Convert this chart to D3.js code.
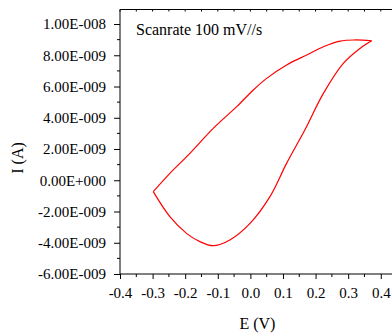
<!DOCTYPE html>
<html>
<head>
<meta charset="utf-8">
<script src="https://cdn.jsdelivr.net/npm/d3@7"></script>
<style>
  body { margin: 0; background: #fff; }
</style>
</head>
<body>
<div id="chart"></div>
<script>
// forward scan (upper branch), E in V, I in nA
const forwardE = [-0.298, -0.247, -0.190, -0.114, -0.042, 0.009, 0.050, 0.111, 0.173, 0.224, 0.275, 0.321, 0.372];
const forwardI = [-0.73, 0.44, 1.62, 3.32, 4.71, 5.78, 6.52, 7.38, 8.02, 8.55, 8.91, 8.98, 8.93];
// reverse scan (lower branch)
const reverseE = [0.372, 0.336, 0.285, 0.224, 0.167, 0.111, 0.060, -0.001, -0.063, -0.114, -0.155, -0.196, -0.247, -0.298];
const reverseI = [8.93, 8.44, 7.48, 5.56, 3.22, 1.08, -1.05, -2.76, -3.82, -4.19, -3.93, -3.40, -2.33, -0.73];

const xTicks = [-0.4, -0.3, -0.2, -0.1, 0.0, 0.1, 0.2, 0.3, 0.4];
const xTickLabels = ['-0.4', '-0.3', '-0.2', '-0.1', '0.0', '0.1', '0.2', '0.3', '0.4'];
const yTicks = [-6e-9, -4e-9, -2e-9, 0, 2e-9, 4e-9, 6e-9, 8e-9, 1e-8];
const yTickLabels = ['-6.00E-009', '-4.00E-009', '-2.00E-009', '0.00E+000', '2.00E-009',
  '4.00E-009', '6.00E-009', '8.00E-009', '1.00E-008'];

const font = '"Liberation Serif", "Times New Roman", "DejaVu Serif", serif';
const width = 392, height = 334;
const margin = { top: 9.5, left: 120, bottom: 274 };

const svg = d3.select('#chart').append('svg')
  .attr('width', width)
  .attr('height', height)
  .style('font-family', font);

const x = d3.scaleLinear().domain([-0.4, 0.459]).range([margin.left, 400]);
const y = d3.scaleLinear().domain([-6e-9, 1.093e-8]).range([margin.bottom, margin.top]);

// minor tick positions
const xMinor = d3.range(-0.35, 0.46, 0.1);
const yMinor = d3.range(-5e-9, 1.05e-8, 2e-9);

// bottom axis
const xAxis = svg.append('g')
  .attr('transform', `translate(0,${margin.bottom})`)
  .call(d3.axisBottom(x).tickValues(xTicks)
    .tickFormat((d, i) => xTickLabels[i]).tickSize(5).tickPadding(8));
xAxis.attr('font-family', null);
xAxis.select('.domain').attr('d', `M${margin.left},0H400`);
xAxis.selectAll('text').style('font-size', '15px').style('font-family', font);
xAxis.selectAll('.minor').data(xMinor).enter().append('line')
  .attr('x1', d => x(d)).attr('x2', d => x(d))
  .attr('y1', 0).attr('y2', 3).attr('stroke', '#000');

// left axis
const yAxis = svg.append('g')
  .attr('transform', `translate(${margin.left},0)`)
  .call(d3.axisLeft(y).tickValues(yTicks)
    .tickFormat((d, i) => yTickLabels[i]).tickSize(6).tickPadding(8));
yAxis.attr('font-family', null);
yAxis.select('.domain').attr('d', `M0,${margin.bottom}V${margin.top}`);
yAxis.selectAll('text').style('font-size', '15px').style('font-family', font);
yAxis.selectAll('.minor').data(yMinor).enter().append('line')
  .attr('y1', d => y(d)).attr('y2', d => y(d))
  .attr('x1', 0).attr('x2', -3).attr('stroke', '#000');

// top border with inward ticks
const topTicks = d3.range(-0.4, 0.46, 0.05);
svg.append('line')
  .attr('x1', margin.left).attr('x2', 400)
  .attr('y1', margin.top).attr('y2', margin.top)
  .attr('stroke', '#000');
svg.selectAll('.toptick').data(topTicks).enter().append('line')
  .attr('x1', d => x(d)).attr('x2', d => x(d))
  .attr('y1', margin.top).attr('y2', margin.top + 2)
  .attr('stroke', '#000');

// axis titles
svg.append('text')
  .attr('x', x(0.0) + 7).attr('y', 329)
  .attr('text-anchor', 'middle').style('font-size', '16px')
  .text('E (V)');
svg.append('text')
  .attr('transform', 'translate(23,158) rotate(-90)')
  .attr('text-anchor', 'middle').style('font-size', '16px')
  .text('I (A)');

svg.append('text')
  .attr('x', 136).attr('y', 35)
  .style('font-size', '16px')
  .text('Scanrate 100 mV//s');

const line = d3.line()
  .x(d => x(d[0]))
  .y(d => y(d[1] * 1e-9))
  .curve(d3.curveCatmullRom.alpha(0.5));

svg.append('path')
  .datum(forwardE.map((e, i) => [e, forwardI[i]]))
  .attr('d', line)
  .attr('fill', 'none').attr('stroke', '#ff0000').attr('stroke-width', 1.2);
svg.append('path')
  .datum(reverseE.map((e, i) => [e, reverseI[i]]))
  .attr('d', line)
  .attr('fill', 'none').attr('stroke', '#ff0000').attr('stroke-width', 1.2);
</script>
</body>
</html>
